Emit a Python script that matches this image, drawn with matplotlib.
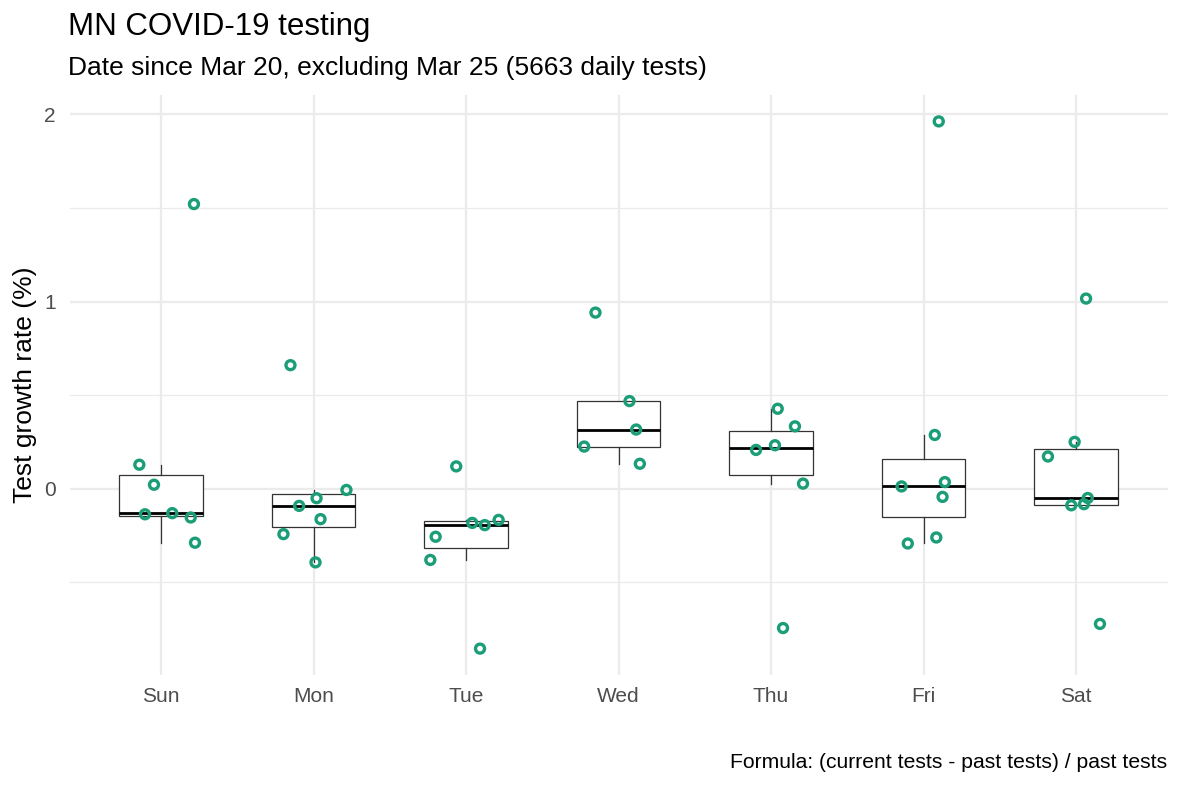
import numpy as np
import matplotlib.pyplot as plt

plt.rcParams['font.family'] = ['Liberation Sans', 'DejaVu Sans']

days = ['Sun', 'Mon', 'Tue', 'Wed', 'Thu', 'Fri', 'Sat']

# growth rate (%) per day of week
sun = [0.128, 0.021, -0.137, -0.131, -0.154, -0.289, 1.521]
mon = [-0.007, -0.051, -0.092, -0.163, -0.243, -0.394, 0.660]
tue = [0.119, -0.183, -0.195, -0.167, -0.257, -0.381, -0.855]
wed = [0.468, 0.316, 0.225, 0.133, 0.941]
thu = [0.427, 0.333, 0.232, 0.207, 0.027, -0.745]
fri = [0.287, 0.035, 0.012, -0.044, -0.261, -0.293, 1.963]
sat = [0.250, 0.172, -0.050, -0.083, -0.089, 1.016, -0.723]

# horizontal jitter of each point (in category units)
sun_jit = [-0.142, -0.046, -0.105, 0.074, 0.195, 0.223, 0.216]
mon_jit = [0.216, 0.020, -0.094, 0.046, -0.197, 0.013, -0.151]
tue_jit = [-0.064, 0.041, 0.123, 0.214, -0.199, -0.234, 0.092]
wed_jit = [0.072, 0.116, -0.225, 0.140, -0.151]
thu_jit = [0.044, 0.157, 0.026, -0.098, 0.210, 0.079]
fri_jit = [0.074, 0.140, -0.144, 0.125, 0.084, -0.103, 0.100]
sat_jit = [-0.009, -0.184, 0.077, 0.052, -0.031, 0.066, 0.157]

values = [sun, mon, tue, wed, thu, fri, sat]
jitter = [sun_jit, mon_jit, tue_jit, wed_jit, thu_jit, fri_jit, sat_jit]
pos = np.arange(1, len(days) + 1)

W, H = 1181, 787
fig = plt.figure(figsize=(W / 100, H / 100), dpi=100)
ax = fig.add_axes([69.5 / W, (H - 675) / H, 1098 / W, 580 / H])

grid = '#EBEBEB'
for y in [-0.5, 0.5, 1.5]:
    ax.axhline(y, color=grid, lw=0.9, zorder=0)
for y in [0, 1, 2]:
    ax.axhline(y, color=grid, lw=1.6, zorder=0)
for x in pos:
    ax.axvline(x, color=grid, lw=1.6, zorder=0)

ax.boxplot(values, positions=pos, widths=0.55, whis=1.5, showfliers=False,
           showcaps=False, patch_artist=True,
           boxprops=dict(facecolor='white', edgecolor='#333333', lw=0.9),
           whiskerprops=dict(color='#333333', lw=0.9),
           medianprops=dict(color='black', lw=2),
           zorder=2)

for p, v, j in zip(pos, values, jitter):
    ax.scatter(p + np.array(j), v, s=42, facecolors='none',
               edgecolors='#1b9e77', linewidths=2.4, zorder=3)

ax.set_xlim(0.4, 7.6)
ax.set_ylim(-0.996, 2.104)
ax.set_xticks(pos)
ax.set_xticklabels(days)
ax.set_yticks([0, 1, 2])
ax.set_yticklabels(['0', '1', '2'])
ax.tick_params(length=0, labelsize=15, labelcolor='#4D4D4D')
ax.tick_params(axis='x', pad=9)
ax.tick_params(axis='y', pad=10)
for s in ax.spines.values():
    s.set_visible(False)
ax.set_ylabel('Test growth rate (%)', fontsize=19, labelpad=5)

fig.text(68 / W, 1 - 27 / H, 'MN COVID-19 testing', fontsize=22.5,
         va='center', ha='left')
fig.text(68 / W, 1 - 68 / H,
         'Date since Mar 20, excluding Mar 25 (5663 daily tests)',
         fontsize=19, va='center', ha='left')
fig.text(1167 / W, 1 - 762 / H,
         'Formula: (current tests - past tests) / past tests',
         fontsize=15.2, va='center', ha='right')

fig.savefig('out.png', dpi=100)
